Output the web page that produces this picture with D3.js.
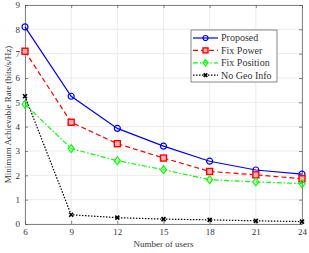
<!DOCTYPE html>
<html>
<head>
<script src="https://cdnjs.cloudflare.com/ajax/libs/d3/7.8.5/d3.min.js"></script>
<style>
  body { margin: 0; background: #fff; }
  svg text { font-family: "Liberation Serif", "DejaVu Serif", serif; fill: #333; }
</style>
</head>
<body>
<div id="chart"></div>
<script>
const users = [6, 9, 12, 15, 18, 21, 24];
const proposed = [8.1, 5.25, 3.93, 3.2, 2.58, 2.22, 2.05];
const fixPower = [7.1, 4.18, 3.3, 2.71, 2.16, 2.02, 1.86];
const fixPosition = [4.92, 3.1, 2.6, 2.23, 1.82, 1.73, 1.66];
const noGeo = [5.25, 0.38, 0.26, 0.2, 0.17, 0.13, 0.1];
const yTicks = [0, 1, 2, 3, 4, 5, 6, 7, 8, 9];

const series = [
  {name: 'Proposed', values: proposed, color: '#0000ff', dash: null, marker: 'circle'},
  {name: 'Fix Power', values: fixPower, color: '#ff0000', dash: '5,3', marker: 'square'},
  {name: 'Fix Position', values: fixPosition, color: '#00ff00', dash: '5,2,1.5,2', marker: 'diamond'},
  {name: 'No Geo Info', values: noGeo, color: '#000000', dash: '1.5,1.5', marker: 'cross'}
];

const SERIF = '"Liberation Serif", "DejaVu Serif", serif';
const W = 309, H = 253;
const margin = {top: 5, right: 7, bottom: 29, left: 25};
const width = W - margin.left - margin.right;
const height = H - margin.top - margin.bottom;

const svg = d3.select('#chart').append('svg')
  .attr('width', W).attr('height', H);
const g = svg.append('g').attr('transform', `translate(${margin.left},${margin.top})`);

const x = d3.scaleLinear().domain([6, 24]).range([0, width]);
const y = d3.scaleLinear().domain([0, 9]).range([height, 0]);

// grid
g.append('g').selectAll('line').data(users).join('line')
  .attr('x1', d => x(d)).attr('x2', d => x(d)).attr('y1', 0).attr('y2', height)
  .attr('stroke', '#e6e6e6').attr('stroke-width', 0.8);
g.append('g').selectAll('line').data(yTicks).join('line')
  .attr('y1', d => y(d)).attr('y2', d => y(d)).attr('x1', 0).attr('x2', width)
  .attr('stroke', '#e6e6e6').attr('stroke-width', 0.8);

// axes
const xAxis = g.append('g').attr('transform', `translate(0,${height})`)
  .call(d3.axisBottom(x).tickValues(users).tickSizeInner(-3).tickSizeOuter(0).tickPadding(5));
const xTop = g.append('g')
  .call(d3.axisTop(x).tickValues(users).tickSizeInner(-3).tickSizeOuter(0).tickFormat(''));
const yAxis = g.append('g')
  .call(d3.axisLeft(y).tickValues(yTicks).tickSizeInner(-3).tickSizeOuter(0).tickPadding(5));
const yRight = g.append('g').attr('transform', `translate(${width},0)`)
  .call(d3.axisRight(y).tickValues(yTicks).tickSizeInner(-3).tickSizeOuter(0).tickFormat(''));
[xAxis, xTop, yAxis, yRight].forEach(a => {
  a.attr('font-family', null);
  a.selectAll('path, line').attr('stroke', '#555').attr('stroke-width', 0.7);
  a.selectAll('text').style('font-family', SERIF).style('font-size', '9px').attr('fill', '#333');
});

const line = d3.line().x((d, i) => x(users[i])).y(d => y(d));

function drawMarker(sel, type, color, s) {
  if (type === 'circle') {
    sel.append('circle').attr('r', s).attr('fill', 'none').attr('stroke', color).attr('stroke-width', 1.2);
  } else if (type === 'square') {
    sel.append('rect').attr('x', -s).attr('y', -s).attr('width', 2 * s).attr('height', 2 * s)
      .attr('fill', '#ffb0b0').attr('stroke', color).attr('stroke-width', 1.4);
  } else if (type === 'diamond') {
    sel.append('path').attr('d', `M0,${-s * 1.3}L${s},0L0,${s * 1.3}L${-s},0Z`)
      .attr('fill', 'none').attr('stroke', color).attr('stroke-width', 1.2);
  } else {
    sel.append('path').attr('d', `M${-s},${-s}L${s},${s}M${-s},${s}L${s},${-s}`)
      .attr('stroke', color).attr('stroke-width', 1.6);
  }
}

series.forEach(s => {
  g.append('path').datum(s.values).attr('d', line)
    .attr('fill', 'none').attr('stroke', s.color).attr('stroke-width', 1.2)
    .attr('stroke-dasharray', s.dash);
  s.values.forEach((v, i) => {
    const m = g.append('g').attr('transform', `translate(${x(users[i])},${y(v)})`);
    drawMarker(m, s.marker, s.color, s.marker === 'cross' ? 2 : 3);
  });
});

// legend
const lg = g.append('g').attr('transform', `translate(${191 - margin.left},${30 - margin.top})`);
lg.append('rect').attr('width', 86).attr('height', 52)
  .attr('fill', '#fff').attr('stroke', '#555').attr('stroke-width', 0.7);
series.forEach((s, i) => {
  const yy = 8 + i * 12.4;
  lg.append('line').attr('x1', 2).attr('x2', 27).attr('y1', yy).attr('y2', yy)
    .attr('stroke', s.color).attr('stroke-width', 1.2).attr('stroke-dasharray', s.dash);
  const m = lg.append('g').attr('transform', `translate(14.5,${yy})`);
  drawMarker(m, s.marker, s.color, s.marker === 'cross' ? 1.8 : 2.5);
  lg.append('text').attr('x', 30).attr('y', yy + 3.3)
    .style('font-family', SERIF).style('font-size', '10px').text(s.name);
});

// labels
svg.append('text').attr('x', margin.left + width / 2).attr('y', 247)
  .attr('text-anchor', 'middle').style('font-family', SERIF).style('font-size', '9px').text('Number of users');
svg.append('text').attr('transform', `translate(11,${margin.top + height / 2}) rotate(-90)`)
  .attr('text-anchor', 'middle').style('font-family', SERIF).style('font-size', '9px')
  .text('Minimum Achievable Rate (bits/s/Hz)');
</script>
</body>
</html>
